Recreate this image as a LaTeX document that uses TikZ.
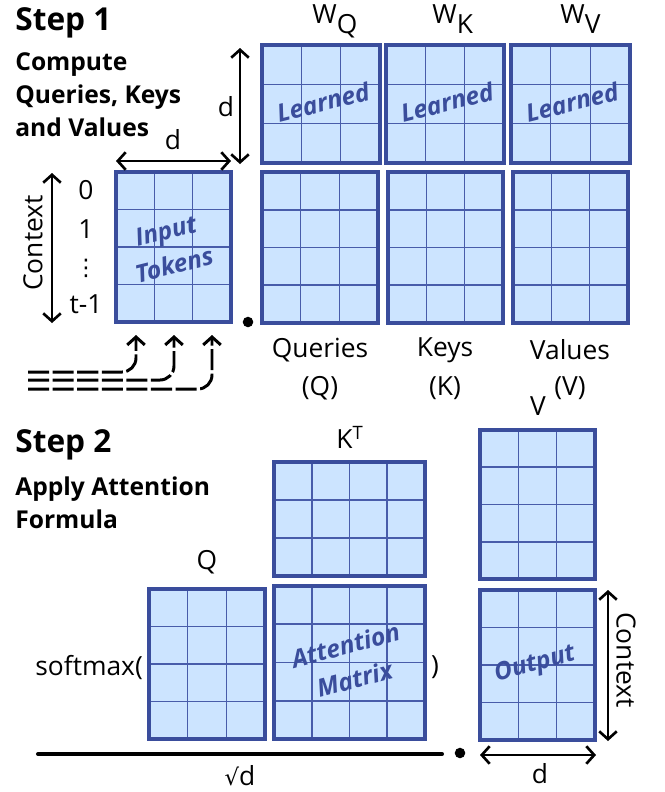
\documentclass[tikz,border=0pt]{standalone}
\usepackage{fontspec}
\setmainfont{Open Sans}
\newfontfamily\symbfont{DejaVu Sans}
\usetikzlibrary{arrows.meta,positioning}
\definecolor{cellblue}{RGB}{204,228,255}
\definecolor{edgeblue}{RGB}{58,77,156}
\definecolor{gridblue}{RGB}{72,92,170}

\begin{document}
\begin{tikzpicture}[x=0.02cm,y=-0.02cm,>={Straight Barb[length=4.5pt,width=10pt]}]
	\begin{scope}

\tikzset{
	lbl/.style={inner sep=0pt,font=\fontsize{15}{18}\selectfont},
	head/.style={inner sep=0pt,anchor=base west,font=\fontsize{18}{22}\selectfont\bfseries},
	sub/.style={inner sep=0pt,anchor=base west,font=\fontsize{14}{18.8}\selectfont\bfseries},
	hand/.style={inner sep=0pt,align=center,text=edgeblue,font=\fontsize{14}{20}\selectfont\bfseries\itshape},
	gridline/.style={gridblue,line width=0.9pt},
	matframe/.style={edgeblue,line width=2.3pt},
	dim/.style={<->,line width=1.5pt},
	feed/.style={->,line width=1.7pt,dash pattern=on 12pt off 2pt,rounded corners=8pt},
	dot/.style={fill=black,circle,inner sep=0pt,minimum size=6pt}
}
\useasboundingbox (0,0) rectangle (664,792);

% all the matrices: name / corners / columns / rows
\foreach \nm/\xa/\ya/\xb/\yb/\nc/\nr in {
	tok/116/172/231/322/3/4,
	wq/262/45/380/163/3/3, wk/386/45/504/163/3/3, wv/511/45/630/163/3/3,
	q/262/172/378/323/3/4, k/388/172/503/323/3/4, v/513/172/628/323/3/4,
	qs/149/589/265/739/3/4, kt/274/462/425/576/4/3, att/274/586/425/739/4/4,
	vs/480/430/595/579/3/4, out/480/590/595/740/3/4}
{
	\fill[cellblue] (\xa,\ya) rectangle (\xb,\yb);
	\foreach \i in {1,...,\nc}
		\draw[gridline] ({\xa+\i*(\xb-\xa)/\nc},\ya) -- ({\xa+\i*(\xb-\xa)/\nc},\yb);
	\foreach \j in {1,...,\nr}
		\draw[gridline] (\xa,{\ya+\j*(\yb-\ya)/\nr}) -- (\xb,{\ya+\j*(\yb-\ya)/\nr});
	\draw[matframe] (\xa,\ya) rectangle (\xb,\yb);
	\coordinate (\nm) at ({(\xa+\xb)/2},{(\ya+\yb)/2});
}

% step 1
\node(st1)[head] at (15,30){Step 1};
\node(st1a)[sub] at (15,70){Compute};
\node(st1b)[sub] at (15,103){Queries, Keys};
\node(st1c)[sub] at (15,136){and Values};

\node(wql)[lbl,anchor=base west] at (312,23){W\raisebox{-6pt}{Q}};
\node(wkl)[lbl,anchor=base west] at (432,23){W\raisebox{-6pt}{K}};
\node(wvl)[lbl,anchor=base west] at (560,23){W\raisebox{-6pt}{V}};

\node(lq)[hand,rotate=14] at (323,102){Learned};
\node(lk)[hand,rotate=14] at (447,102){Learned};
\node(lv)[hand,rotate=14] at (572,102){Learned};
\node(tokl)[hand,rotate=14] at (170,248){Input\\Tokens};

\node(ql)[lbl] at (320,350){Queries};
\node(qs1)[lbl] at (320,388){(Q)};
\node(kl)[lbl] at (445,350){Keys};
\node(ks1)[lbl] at (445,388){(K)};
\node(vl)[lbl] at (570,350){Values};
\node(vs1)[lbl] at (570,388){(V)};

% sizes of the input
\node(ctx)[lbl,rotate=90] at (33,243){Context};
\node(r0)[lbl] at (86,190){0};
\node(r1)[lbl] at (86,229){1};
\node(rd)[lbl] at (86,268){\symbfont\fontsize{13}{13}\selectfont ⋮};
\node(rt)[lbl] at (86,304){t-1};
\coordinate(ctop) at (52,173);
\coordinate(cbot) at (52,323);
\draw[dim] (ctop) -- (cbot);

\coordinate(dvt) at (240,48);
\coordinate(dvb) at (240,164);
\draw[dim] (dvt) -- (dvb);
\node(dv)[lbl] at (226,107){d};
\coordinate(dhl) at (116,161);
\coordinate(dhr) at (231,161);
\draw[dim] (dhl) -- (dhr);
\node(dh)[lbl] at (173,140){d};

\node(dot1)[dot] at (248,322){};

% tokens coming in
\coordinate(f1) at (28,372);
\coordinate(f2) at (28,380);
\coordinate(f3) at (28,389);
\coordinate(t1) at (136,335);
\coordinate(t2) at (174,335);
\coordinate(t3) at (212,335);
\draw[feed] (f1) -| (t1);
\draw[feed] (f2) -| (t2);
\draw[feed] (f3) -| (t3);

% step 2
\node(st2)[head] at (15,452){Step 2};
\node(st2a)[sub] at (15,495){Apply Attention};
\node(st2b)[sub] at (15,528){Formula};

\node(qlb)[lbl] at (207,562){Q};
\node(ktl)[lbl] at (350,437){K\textsuperscript{T}};
\node(vlb)[lbl] at (538,406){V};

\node(attl)[hand,rotate=15] at (350,662){Attention\\Matrix};
\node(outl)[hand,rotate=15] at (535,665){Output};

\node(smx)[lbl,anchor=base west] at (35,675){softmax(};
\node(smc)[lbl] at (435,667){)};
\coordinate(fl) at (38,754);
\coordinate(fr) at (442,754);
\draw[line width=2.3pt,line cap=round] (fl) -- (fr);
\node(sq)[lbl,anchor=base] at (240,785){{\symbfont\fontsize{13}{13}\selectfont √}d};
\node(dot2)[dot] at (460,753){};

\coordinate(otop) at (608,590);
\coordinate(obot) at (608,741);
\draw[dim] (otop) -- (obot);
\node(octx)[lbl,rotate=-90] at (626,660){Context};
\coordinate(odl) at (480,755);
\coordinate(odr) at (596,755);
\draw[dim] (odl) -- (odr);
\node(od)[lbl] at (540,774){d};

	\end{scope}
\end{tikzpicture}
\end{document}
